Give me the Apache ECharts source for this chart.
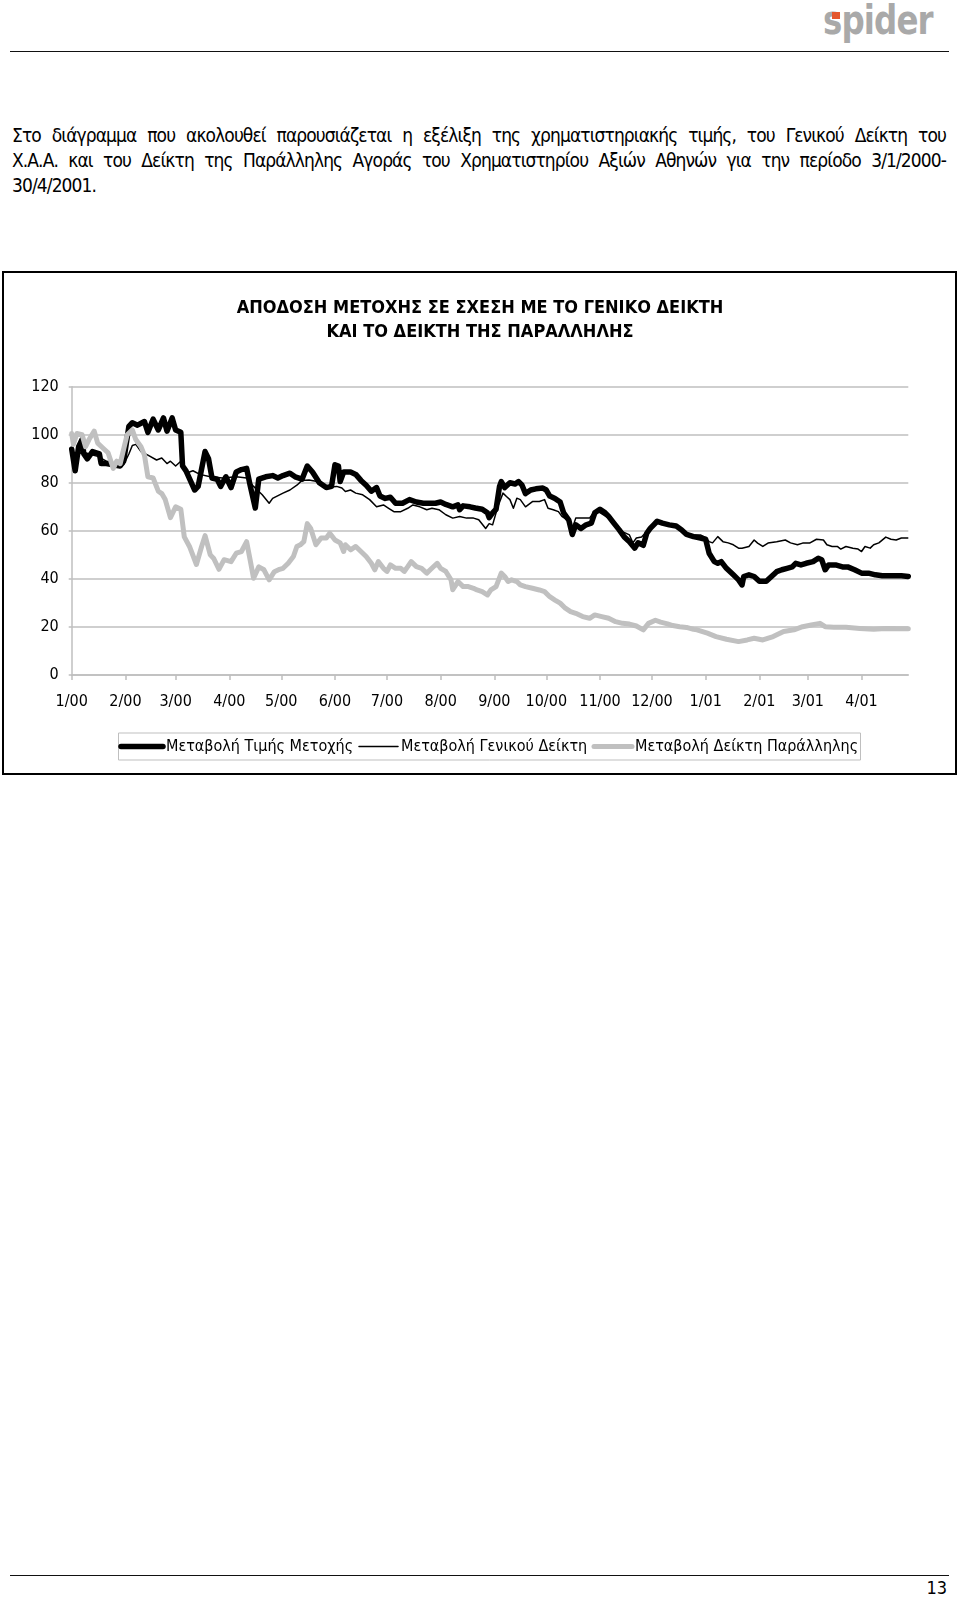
<!DOCTYPE html>
<html>
<head>
<meta charset="utf-8">
<script src="https://cdn.jsdelivr.net/npm/echarts@6/dist/echarts.min.js"></script>
<style>
html,body{margin:0;padding:0;background:#fff;}
body{width:960px;height:1599px;position:relative;overflow:hidden;font-family:'DejaVu Sans Condensed','DejaVu Sans',sans-serif;color:#000;}
.hr{position:absolute;left:10px;width:939px;height:0;border-top:1px solid #111;}
#logo{position:absolute;left:823px;top:0px;font-weight:bold;font-size:41px;line-height:41px;color:#a9a9a9;transform-origin:0 0;transform:scaleX(0.88);letter-spacing:-1px;}
#logoSq{position:absolute;left:832px;top:12px;width:8px;height:7px;background:#e4572e;}
#para{position:absolute;left:12px;top:123px;width:934px;font-size:19px;line-height:25px;letter-spacing:-0.9px;}
#para .j{text-align:justify;text-align-last:justify;}
#page{position:absolute;right:13px;top:1578px;font-size:18px;line-height:20px;}
#chart{position:absolute;left:0;top:0;width:960px;height:1599px;}
</style>
</head>
<body>
<div id="logo">spider</div>
<div id="logoSq"></div>
<div class="hr" style="top:51px"></div>
<div id="para">
<div class="j">Στο διάγραμμα που ακολουθεί παρουσιάζεται η εξέλιξη της χρηματιστηριακής τιμής, του Γενικού Δείκτη του</div>
<div class="j">Χ.Α.Α. και του Δείκτη της Παράλληλης Αγοράς του Χρηματιστηρίου Αξιών Αθηνών για την περίοδο 3/1/2000-</div>
<div>30/4/2001.</div>
</div>
<div class="hr" style="top:1575px"></div>
<div id="page">13</div>
<div id="chart"></div>
<script>
// ---- data ----
const titleLines = ['ΑΠΟΔΟΣΗ ΜΕΤΟΧΗΣ ΣΕ ΣΧΕΣΗ ΜΕ ΤΟ ΓΕΝΙΚΟ ΔΕΙΚΤΗ', 'ΚΑΙ ΤΟ ΔΕΙΚΤΗ ΤΗΣ ΠΑΡΑΛΛΗΛΗΣ'];
const seriesNames = ['Μεταβολή Τιμής Μετοχής', 'Μεταβολή Γενικού Δείκτη', 'Μεταβολή Δείκτη Παράλληλης'];
const axisStart = '2000-01-03';
const axisEnd = '2001-04-30';
const yTicks = [0, 20, 40, 60, 80, 100, 120];

// day offsets from axisStart, and values
const stockDay = [0,2,4,6,7,9,12,16,17,20,24,28,30,33,35,38,42,44,47,50,53,55,58,60,63,64,66,71,73,77,79,81,84,86,89,92,95,98,101,103,106,108,112,116,119,122,126,129,133,136,139,143,147,150,152,154,155,157,161,164,167,170,173,176,178,181,184,187,191,195,199,203,207,210,213,216,220,223,224,226,230,233,237,240,241,243,245,247,248,250,253,256,258,260,262,265,268,272,274,276,279,282,284,287,289,291,294,297,300,302,305,308,310,313,316,319,322,325,327,330,332,334,336,338,341,345,349,352,355,359,363,366,368,371,373,375,378,382,385,387,388,391,394,397,401,404,407,410,413,416,418,421,424,428,431,433,435,437,441,445,448,452,456,460,464,468,474,479,483];
const stockVal = [94,85,95,98,92,90,93,92,88,88,87.5,87,89,103.5,105,104,105.5,101,106.5,102,107,101.5,107,102,101,87,85,77,78.5,93,90,82,81.5,78.5,82.5,78,84.5,85.5,86,79,69.5,81.5,82.5,83,82,83,84,82.5,81.5,87,84.5,80,78,78.5,87.5,87,80.5,84.5,84.5,83.5,81,79,76.5,78,74.5,73.5,74,71.5,71.5,73,72,71.5,71.5,71.5,72,71,70,70.8,68.8,70.4,70,69.5,69,67.5,65.5,67.5,69,78.5,80.5,78,80,79.5,80.5,79,75.5,77,77.5,77.8,77,74.5,73.5,72,67.5,64.5,58.5,62.5,61,62.5,63.2,67.5,69,67.5,66,63.2,60.5,57.5,55.5,52.8,55,54,59,61,62.5,64,63.2,62.5,62,60.5,58.5,57.6,57,56.5,50.7,47.2,46.5,47.2,44.4,41.7,39.6,37.5,41,41.7,41,39,39,41,43,43.8,44.4,45,46.5,45.8,46.5,47.2,48.6,48,43.8,45.8,45.8,45,45,43.8,42.4,42.4,41.7,41.3,41.3,41.3,41];

const genDay = [0,3,6,10,15,20,25,30,33,35,37,40,44,49,52,55,57,60,63,66,70,74,80,87,95,101,105,110,114,116,120,122,126,130,133,137,141,145,149,153,156,158,161,164,168,172,176,180,183,186,190,194,197,201,205,208,212,216,220,224,228,232,235,239,241,243,246,249,251,253,255,257,259,262,266,270,273,275,278,281,283,286,289,291,295,299,301,304,307,310,314,318,322,324,326,329,332,335,338,342,347,351,355,359,363,365,368,370,373,376,379,382,385,387,391,394,396,399,402,407,412,415,419,422,426,430,434,436,439,442,444,447,451,454,456,458,461,463,466,470,473,476,479,483];
const genVal = [93,91,93,92,91,89,88,87.5,92,95.5,96,93,91.5,89.5,90.3,88,89,87,89,84,85,83.5,82.5,82,82.5,82,78.5,75,71.5,73.5,75,75.7,77,79,81,81.2,80.6,79.2,78.2,78.5,77.8,76.4,77,75.7,75,73,70,70.8,69.4,68,68,69.4,70.8,70,68.8,69.4,68.8,66.7,65.3,66,65.3,65.3,64.6,61,63,62.5,70,75.7,74.3,73,69.4,73.6,73,70,72.2,72.2,73,69.4,68.8,68,66,64.6,61,65.3,65.3,65.3,67.4,68,66.7,65.3,62.5,59.7,58.3,55,57,57.4,59.7,62.5,64,63.2,62.5,61,59,58.3,58.3,57.6,55.5,55,57.6,55.5,55,54.2,52.8,52.8,53.5,56.2,54.9,53.5,54.9,55.5,56.2,55,54.2,54.9,54.9,56.5,56.2,54.2,53.5,53.5,52.4,53.5,52.8,52.4,51.4,53.5,52.8,54.2,55,57.4,56.5,56.2,57,57];

const parDay = [0,1,3,6,8,10,13,15,18,21,24,26,28,30,32,35,37,40,42,44,47,50,52,54,57,60,63,65,68,72,75,77,80,82,85,88,92,95,98,101,103,105,108,111,114,117,120,122,125,128,130,132,134,136,138,141,144,147,149,152,155,157,158,161,164,167,170,173,175,177,180,182,184,187,190,192,194,196,199,202,205,207,211,213,216,219,220,223,226,229,232,234,237,240,242,245,248,250,252,254,257,259,262,266,270,273,276,279,282,285,288,291,295,299,302,306,310,314,318,322,326,330,333,337,340,344,347,351,355,359,361,367,372,378,385,390,394,399,405,411,417,422,427,432,435,440,447,455,463,470,478,483];
const parVal = [100.5,96,100.5,100,95,98,101.5,96.5,94.5,92.5,86,89,88,94,100,102,98,95,91.5,82.5,82,76.5,75.5,73,65.5,70,69,57.5,53.5,46,53.5,58,50,48.5,44,48,47.2,50.7,51.4,55.5,48,40.3,45,43.8,39.6,43,44,44.4,46.5,49.3,53.5,54.2,55.5,63,61,54.2,57,57,59,56.2,55,51.4,54.2,52.1,53.5,51.4,49.3,46.5,43.8,47.2,44.4,43.1,45.8,44.4,44.4,43.1,45.1,47.2,45.1,44.4,42.4,43.8,46.5,44.4,43.1,39.6,35.5,38.9,36.8,36.8,36.1,35.4,34.7,33.3,35.4,36.8,42.4,41,38.9,39.6,38.9,37.5,36.8,36.1,35.4,34.7,32.6,31.2,29.9,27.8,26.4,25.7,24.3,23.6,25,24.3,23.6,22.2,21.5,21.2,20.4,18.8,21.5,22.8,22,21.3,20.6,20.1,19.8,19,18.8,17.4,16,14.9,13.9,14.6,15.3,14.6,16,18.1,18.8,20.1,20.8,21.5,20.1,19.9,19.9,19.4,19,19.4,19.2,19.2];

// ---- build daily category axis ----
function parseD(s){const p=s.split('-').map(Number);return Date.UTC(p[0],p[1]-1,p[2]);}
const cats = [];
for (let t = parseD(axisStart); t <= parseD(axisEnd); t += 86400000) {
  const d = new Date(t);
  cats.push(d.getUTCFullYear() + '-' + String(d.getUTCMonth()+1).padStart(2,'0') + '-' + String(d.getUTCDate()).padStart(2,'0'));
}
const isTick = (i, v) => v.slice(8) === axisStart.slice(8);
const fmt = v => Number(v.slice(5,7)) + '/' + v.slice(2,4);
const pairs = (ds, vs) => ds.map((d, i) => [d, vs[i]]);

const FONT = "'DejaVu Sans Condensed', 'DejaVu Sans', sans-serif";
const GRID = '#bfbfbf';
const COLORS = ['#000000', '#000000', '#c0c0c0'];
const WIDTHS = [5.5, 1.5, 5];

// legend drawn as graphic (line samples of the real widths)
const legendItems = [
  {x0:121, x1:163, tx:166},
  {x0:359, x1:398, tx:401},
  {x0:594, x1:632, tx:635}
];
const legendGraphic = [
  {type:'rect', silent:true, shape:{x:118.5, y:733, width:742, height:27}, style:{fill:'#fff', stroke:'#bfbfbf', lineWidth:1}}
];
legendItems.forEach((it, k) => {
  legendGraphic.push({type:'line', silent:true, shape:{x1:it.x0, y1:746.5, x2:it.x1, y2:746.5},
    style:{stroke:COLORS[k], lineWidth:WIDTHS[k], lineCap:'round'}});
  legendGraphic.push({type:'text', silent:true, x:it.tx, y:747,
    style:{text:seriesNames[k], fontFamily:FONT, fontSize:16, fill:'#000', textAlign:'left', textVerticalAlign:'middle', align:'left', verticalAlign:'middle'}});
});

const chart = echarts.init(document.getElementById('chart'), null, {renderer:'canvas', width:960, height:1599});
chart.setOption({
  animation:false,
  textStyle:{fontFamily:FONT},
  graphic:[
    {type:'rect', silent:true, shape:{x:3, y:272, width:953, height:502}, style:{fill:'none', stroke:'#000', lineWidth:2}},
    {type:'text', silent:true, x:480, y:308, style:{text:titleLines[0], fontFamily:FONT, fontSize:18, fontWeight:'bold', fill:'#000', textAlign:'center', textVerticalAlign:'middle', align:'center', verticalAlign:'middle'}},
    {type:'text', silent:true, x:480, y:332.5, style:{text:titleLines[1], fontFamily:FONT, fontSize:18, fontWeight:'bold', fill:'#000', textAlign:'center', textVerticalAlign:'middle', align:'center', verticalAlign:'middle'}}
  ].concat(legendGraphic),
  grid:{left:71.7, top:386.7, width:836.6, height:288.3, containLabel:false},
  xAxis:{
    type:'category', data:cats, boundaryGap:false,
    axisLine:{lineStyle:{color:GRID, width:1.5}},
    axisTick:{show:true, interval:isTick, length:5, lineStyle:{color:GRID, width:1.5}},
    axisLabel:{interval:isTick, formatter:fmt, color:'#000', fontSize:16, fontFamily:FONT, margin:19},
    splitLine:{show:false}
  },
  yAxis:{
    type:'value', min:yTicks[0], max:yTicks[yTicks.length-1], interval:20,
    axisLine:{show:true, lineStyle:{color:GRID, width:1.5}},
    axisTick:{show:true, length:3, lineStyle:{color:GRID, width:1.5}},
    axisLabel:{color:'#000', fontSize:16, fontFamily:FONT, margin:13},
    splitLine:{show:true, lineStyle:{color:GRID, width:1.5}}
  },
  series:[
    {name:seriesNames[0], type:'line', data:pairs(stockDay, stockVal), symbol:'none', showSymbol:false,
     lineStyle:{color:COLORS[0], width:WIDTHS[0], cap:'round', join:'round'}, itemStyle:{color:COLORS[0]}},
    {name:seriesNames[1], type:'line', data:pairs(genDay, genVal), symbol:'none', showSymbol:false,
     lineStyle:{color:COLORS[1], width:WIDTHS[1], join:'round'}, itemStyle:{color:COLORS[1]}},
    {name:seriesNames[2], type:'line', data:pairs(parDay, parVal), symbol:'none', showSymbol:false,
     lineStyle:{color:COLORS[2], width:WIDTHS[2], cap:'round', join:'round'}, itemStyle:{color:COLORS[2]}}
  ]
});
</script>
</body>
</html>
